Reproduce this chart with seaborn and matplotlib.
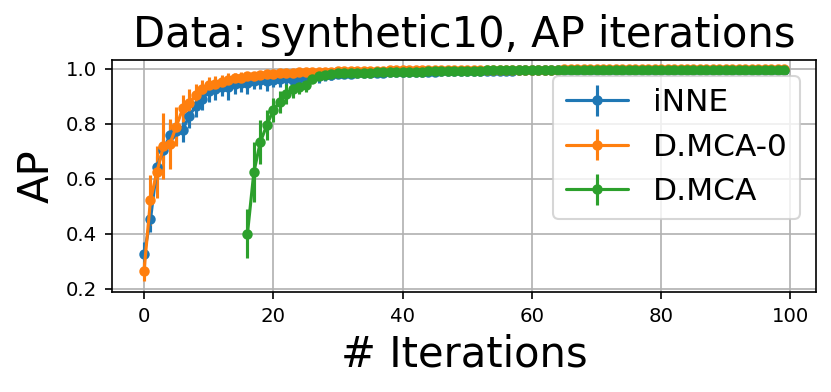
import numpy as np
import matplotlib
matplotlib.use("Agg")
import matplotlib.pyplot as plt
import seaborn as sns

# Mean AP per iteration and the spread (error bar half-length)
iterations = list(range(100))

inne_ap = [0.325, 0.452, 0.642, 0.703, 0.758, 0.775, 0.779, 0.828, 0.865, 0.890,
           0.918, 0.928, 0.935, 0.932, 0.944, 0.950, 0.948, 0.955, 0.958, 0.954,
           0.960, 0.962, 0.965, 0.960, 0.966, 0.967, 0.972, 0.975, 0.977, 0.978,
           0.980, 0.981, 0.982, 0.983, 0.984, 0.985, 0.986, 0.986, 0.987, 0.988,
           0.988, 0.989, 0.989, 0.990, 0.990, 0.990, 0.991, 0.991, 0.991, 0.992,
           0.992, 0.992, 0.992, 0.993, 0.993, 0.993, 0.993, 0.993, 0.994, 0.994,
           0.994, 0.994, 0.994, 0.994, 0.995, 0.995, 0.995, 0.995, 0.995, 0.995,
           0.995, 0.995, 0.996, 0.996, 0.996, 0.996, 0.996, 0.996, 0.996, 0.996,
           0.996, 0.996, 0.996, 0.997, 0.997, 0.997, 0.997, 0.997, 0.997, 0.997,
           0.997, 0.997, 0.997, 0.997, 0.997, 0.997, 0.997, 0.997, 0.997, 0.997]
inne_err = [0.045, 0.045, 0.040, 0.045, 0.050, 0.050, 0.045, 0.045, 0.040, 0.040,
            0.040, 0.040, 0.035, 0.045, 0.035, 0.035, 0.040, 0.030, 0.030, 0.035,
            0.025, 0.030, 0.025, 0.030, 0.025, 0.025, 0.025, 0.025, 0.020, 0.020,
            0.015, 0.015, 0.012, 0.012, 0.010, 0.010, 0.008, 0.008, 0.008, 0.007,
            0.007, 0.006, 0.006, 0.006, 0.005, 0.005, 0.005, 0.005, 0.005, 0.004,
            0.004, 0.004, 0.004, 0.004, 0.004, 0.004, 0.004, 0.004, 0.003, 0.003,
            0.003, 0.003, 0.003, 0.003, 0.003, 0.003, 0.003, 0.003, 0.003, 0.003,
            0.003, 0.003, 0.003, 0.003, 0.003, 0.003, 0.003, 0.003, 0.003, 0.003,
            0.003, 0.003, 0.003, 0.003, 0.003, 0.003, 0.003, 0.003, 0.003, 0.003,
            0.003, 0.003, 0.003, 0.003, 0.003, 0.003, 0.003, 0.003, 0.003, 0.003]

dmca0_ap = [0.263, 0.522, 0.625, 0.718, 0.727, 0.790, 0.856, 0.875, 0.905, 0.925,
            0.940, 0.945, 0.952, 0.960, 0.965, 0.968, 0.972, 0.975, 0.978, 0.980,
            0.982, 0.983, 0.985, 0.986, 0.987, 0.988, 0.989, 0.989, 0.990, 0.990,
            0.991, 0.991, 0.992, 0.992, 0.992, 0.993, 0.993, 0.993, 0.994, 0.994,
            0.994, 0.994, 0.995, 0.995, 0.995, 0.995, 0.995, 0.996, 0.996, 0.996,
            0.996, 0.996, 0.996, 0.996, 0.997, 0.997, 0.997, 0.997, 0.997, 0.997,
            0.997, 0.997, 0.997, 0.997, 0.997, 0.998, 0.998, 0.998, 0.998, 0.998,
            0.998, 0.998, 0.998, 0.998, 0.998, 0.998, 0.998, 0.998, 0.998, 0.998,
            0.998, 0.998, 0.998, 0.998, 0.998, 0.998, 0.998, 0.998, 0.998, 0.998,
            0.998, 0.998, 0.998, 0.998, 0.998, 0.998, 0.998, 0.998, 0.998, 0.998]
dmca0_err = [0.035, 0.090, 0.095, 0.120, 0.090, 0.070, 0.050, 0.050, 0.040, 0.035,
             0.030, 0.030, 0.025, 0.025, 0.020, 0.020, 0.018, 0.015, 0.015, 0.012,
             0.012, 0.010, 0.010, 0.008, 0.008, 0.007, 0.007, 0.006, 0.006, 0.005,
             0.005, 0.005, 0.004, 0.004, 0.004, 0.004, 0.003, 0.003, 0.003, 0.003,
             0.003, 0.003, 0.003, 0.003, 0.003, 0.003, 0.003, 0.002, 0.002, 0.002,
             0.002, 0.002, 0.002, 0.002, 0.002, 0.002, 0.002, 0.002, 0.002, 0.002,
             0.002, 0.002, 0.002, 0.002, 0.002, 0.002, 0.002, 0.002, 0.002, 0.002,
             0.002, 0.002, 0.002, 0.002, 0.002, 0.002, 0.002, 0.002, 0.002, 0.002,
             0.002, 0.002, 0.002, 0.002, 0.002, 0.002, 0.002, 0.002, 0.002, 0.002,
             0.002, 0.002, 0.002, 0.002, 0.002, 0.002, 0.002, 0.002, 0.002, 0.002]

# D.MCA only starts at iteration 16
dmca_iterations = list(range(16, 100))
dmca_ap = [0.400, 0.625, 0.734, 0.795, 0.850, 0.880, 0.908, 0.925, 0.935, 0.942,
           0.963, 0.975, 0.978, 0.981, 0.983, 0.984, 0.985, 0.985, 0.986, 0.986,
           0.987, 0.987, 0.988, 0.988, 0.989, 0.989, 0.990, 0.990, 0.991, 0.991,
           0.992, 0.992, 0.992, 0.993, 0.993, 0.993, 0.993, 0.994, 0.994, 0.994,
           0.994, 0.994, 0.995, 0.995, 0.995, 0.995, 0.995, 0.995, 0.995, 0.996,
           0.996, 0.996, 0.996, 0.996, 0.996, 0.996, 0.996, 0.996, 0.996, 0.996,
           0.997, 0.997, 0.997, 0.997, 0.997, 0.997, 0.997, 0.997, 0.997, 0.997,
           0.997, 0.997, 0.997, 0.997, 0.997, 0.997, 0.997, 0.997, 0.997, 0.997,
           0.997, 0.997, 0.997, 0.997]
dmca_err = [0.090, 0.110, 0.080, 0.055, 0.045, 0.040, 0.035, 0.030, 0.028, 0.025,
            0.015, 0.012, 0.010, 0.009, 0.008, 0.008, 0.007, 0.007, 0.006, 0.006,
            0.006, 0.005, 0.005, 0.005, 0.005, 0.004, 0.004, 0.004, 0.004, 0.004,
            0.003, 0.003, 0.003, 0.003, 0.003, 0.003, 0.003, 0.003, 0.003, 0.003,
            0.003, 0.003, 0.003, 0.003, 0.003, 0.003, 0.003, 0.003, 0.003, 0.003,
            0.003, 0.003, 0.003, 0.003, 0.003, 0.003, 0.003, 0.003, 0.003, 0.003,
            0.003, 0.003, 0.003, 0.003, 0.003, 0.003, 0.003, 0.003, 0.003, 0.003,
            0.003, 0.003, 0.003, 0.003, 0.003, 0.003, 0.003, 0.003, 0.003, 0.003,
            0.003, 0.003, 0.003, 0.003]


def main():
    sns.set_style("ticks", {
        "axes.grid": True,
        "axes.edgecolor": "black",
        "grid.color": "#b0b0b0",
        "text.color": "black",
        "axes.labelcolor": "black",
        "xtick.color": "black",
        "ytick.color": "black",
    })
    plt.rcParams["font.family"] = ["DejaVu Sans"]
    palette = sns.color_palette("tab10")

    fig = plt.figure(figsize=(831 / 150, 392 / 150), dpi=150)
    ax = fig.add_axes([112 / 831, 1 - 292 / 392, (816 - 112) / 831, (292 - 60) / 392])

    series = [
        ("iNNE", iterations, inne_ap, inne_err),
        ("D.MCA-0", iterations, dmca0_ap, dmca0_err),
        ("D.MCA", dmca_iterations, dmca_ap, dmca_err),
    ]
    for i, (name, xs, ys, es) in enumerate(series):
        ax.errorbar(xs, ys, yerr=es, label=name, color=palette[i],
                    marker="o", markersize=4, linewidth=1.5)

    ax.set_ylim(0.188, 1.032)
    ax.set_yticks([0.2, 0.4, 0.6, 0.8, 1.0])
    ax.grid(True, linewidth=0.8)
    ax.tick_params(labelsize=9.5, direction="out", length=3.5, width=0.8)
    for s in ax.spines.values():
        s.set_linewidth(0.8)

    ax.set_title("Data: synthetic10, AP iterations", fontsize=20)
    ax.set_xlabel("# Iterations", fontsize=20)
    ax.set_ylabel("AP", fontsize=20)
    ax.legend(loc="upper right", fontsize=15)

    fig.savefig("out.png", dpi=150)
    plt.close(fig)


if __name__ == "__main__":
    main()
